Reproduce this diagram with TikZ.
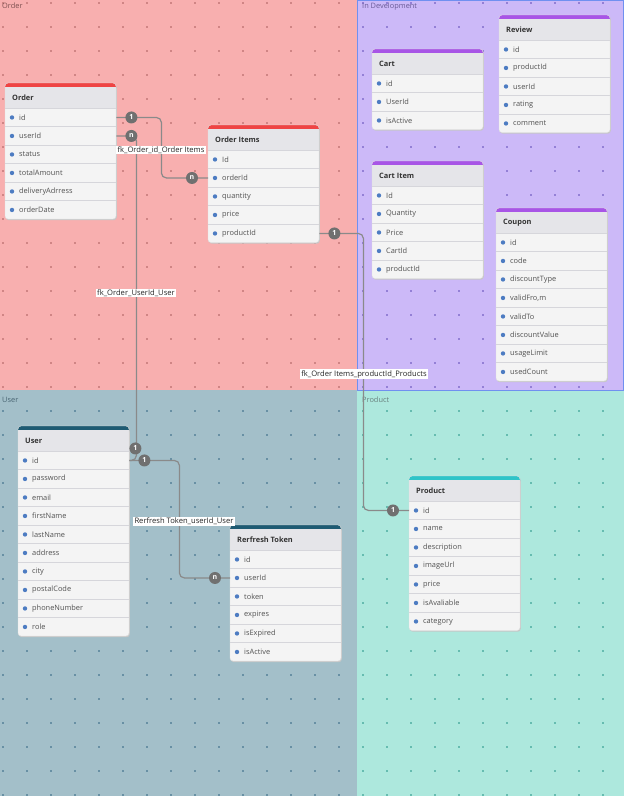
\documentclass[tikz,border=0pt]{standalone}
\usepackage{fontspec}
\setsansfont{Open Sans}
\usetikzlibrary{calc}

\definecolor{orderbg}{HTML}{F8AFAF}
\definecolor{devbg}{HTML}{CCB9F8}
\definecolor{userbg}{HTML}{A3BFC9}
\definecolor{productbg}{HTML}{ADE8DD}
\definecolor{orderdot}{HTML}{D08585}
\definecolor{devdot}{HTML}{9480D6}
\definecolor{userdot}{HTML}{6890A4}
\definecolor{productdot}{HTML}{66BCB0}
\definecolor{orderred}{HTML}{EF4444}
\definecolor{devpurple}{HTML}{A855E6}
\definecolor{userteal}{HTML}{1E5B73}
\definecolor{productcyan}{HTML}{2EC4C8}
\definecolor{rowfill}{HTML}{F4F4F4}
\definecolor{headfill}{HTML}{E5E5E9}
\definecolor{sepgray}{HTML}{D6D6DB}
\definecolor{keyblue}{HTML}{4D7CC2}
\definecolor{linegray}{HTML}{8A8A8A}
\definecolor{cardgray}{HTML}{707070}
\definecolor{devborder}{HTML}{7090F0}

\tikzset{
  tabrow/.style={anchor=north west, minimum height=18.5pt, text width=83pt,
    inner xsep=14pt, inner ysep=0pt, align=left, text=black!68,
    font=\sffamily\fontsize{7.4}{9}\selectfont},
  tabtitle/.style={anchor=west, inner sep=0pt, text=black!80,
    font=\sffamily\bfseries\fontsize{7.4}{9}\selectfont},
  rowsep/.style={draw=sepgray, line width=1pt},
  keydot/.style={fill=keyblue},
  relline/.style={draw=linegray, line width=1.2pt, rounded corners=5pt},
  card/.style={circle, fill=cardgray, text=white, inner sep=0pt, minimum size=12pt,
    font=\sffamily\bfseries\fontsize{7}{7}\selectfont},
  rellabel/.style={fill=white, inner xsep=1.5pt, inner ysep=1pt, text=black!85,
    font=\sffamily\fontsize{7.6}{9}\selectfont},
  grouplabel/.style={anchor=north west, inner sep=0pt,
    font=\sffamily\fontsize{7.4}{9}\selectfont},
}

% #1 name, #2 left, #3 top, #4 bar colour, #5 title, #6 rows, #7 fields
\newcommand{\erdtable}[7]{%
  \fill[black!22, rounded corners=3pt] ({#2+0.8},{#3+1.2}) rectangle ({#2+111.8},{#3+26.2+18.5*#6});
  \fill[rowfill, rounded corners=3pt] (#2,#3) rectangle ({#2+111},{#3+25+18.5*#6});
  \fill[#4, rounded corners=3pt] (#2,#3) rectangle ({#2+111},{#3+8});
  \fill[headfill] (#2,{#3+4}) rectangle ({#2+111},{#3+25});
  \node[tabtitle] (#1-title) at ({#2+7},{#3+15}) {#5};
  \foreach \f [count=\i] in {#7} {
    \node[tabrow] (#1-\i) at (#2,{#3+25+18.5*(\i-1)}) {\f};
    \draw[rowsep] (#1-\i.north west) -- (#1-\i.north east);
    \fill[keydot] ($(#1-\i.west)+(7,0)$) circle (2.2pt);
  }
  \draw[black!12, rounded corners=3pt] (#2,#3) rectangle ({#2+111},{#3+25+18.5*#6});
}

% #1 colour, #2 left, #3 top, #4 right, #5 bottom
\newcommand{\dotgrid}[5]{%
  \begin{scope}
    \clip (#2,#3) rectangle (#4,#5);
    \foreach \gx in {3,27,...,627}
      \foreach \gy in {3,27,...,795}
        \fill[#1] ({\gx-0.9},{\gy-0.9}) rectangle ++(1.8,1.8);
  \end{scope}
}

\begin{document}
\begin{tikzpicture}[x=1pt, y=-1pt]
    \useasboundingbox (0,0) rectangle (624,796);

    % Groups
    \fill[orderbg] (0,0) rectangle (357,390);
    \fill[devbg] (357,0) rectangle (624,390);
    \fill[userbg] (0,390) rectangle (357,796);
    \fill[productbg] (357,390) rectangle (624,796);
    \dotgrid{orderdot}{0}{0}{357}{390}
    \dotgrid{devdot}{357}{0}{624}{390}
    \dotgrid{userdot}{0}{390}{357}{796}
    \dotgrid{productdot}{357}{390}{624}{796}
    \draw[devborder, line width=1pt] (357,0.5) rectangle (623.5,390);

    \node[grouplabel, text=orderdot!60!black] (g-order) at (2,3) {Order};
    \node[grouplabel, text=devdot!70!black] (g-dev) at (362,3) {In Development};
    \node[grouplabel, text=userdot!70!black] (g-user) at (2,397) {User};
    \node[grouplabel, text=productdot!40!black!70] (g-product) at (362,397) {Product};

    % Tables
    \erdtable{order}{5}{83}{orderred}{Order}{6}{id,userId,status,totalAmount,deliveryAdrress,orderDate}
    \erdtable{oitems}{208}{125}{orderred}{Order Items}{5}{Id,orderId,quantity,price,productId}
    \erdtable{cart}{372}{49}{devpurple}{Cart}{3}{id,UserId,isActive}
    \erdtable{review}{499}{15}{devpurple}{Review}{5}{id,productId,userId,rating,comment}
    \erdtable{cartitem}{372}{161}{devpurple}{Cart Item}{5}{Id,Quantity,Price,CartId,productId}
    \erdtable{coupon}{496}{208}{devpurple}{Coupon}{8}{id,code,discountType,{validFro,m},validTo,discountValue,usageLimit,usedCount}
    \erdtable{user}{18}{426}{userteal}{User}{10}{id,password,email,firstName,lastName,address,city,postalCode,phoneNumber,role}
    \erdtable{rtoken}{230}{525}{userteal}{Rerfresh Token}{6}{id,userId,token,expires,isExpired,isActive}
    \erdtable{product}{409}{476}{productcyan}{Product}{7}{id,name,description,imageUrl,price,isAvaliable,category}

    % Relations
    \draw[relline] (order-1.east) -- ++(45,0) |- (oitems-2.west);
    \draw[relline] (order-2.east) -- ++(20,0) |- (user-1.east);
    \draw[relline] (user-1.east) -- ++(50,0) |- (rtoken-2.west);
    \draw[relline] (oitems-5.east) -- ++(44,0) |- (product-1.west);

    \node[rellabel] (l-orderitems) at (161,150) {fk\_Order\_id\_Order Items};
    \node[rellabel] (l-orderuser) at (136,293) {fk\_Order\_UserId\_User};
    \node[rellabel] (l-tokenuser) at (184,521) {Rerfresh Token\_userId\_User};
    \node[rellabel] (l-itemproduct) at (364,374) {fk\_Order Items\_productId\_Products};

    \node[card] (c1) at ($(order-1.east)+(15,0)$) {1};
    \node[card] (c2) at ($(oitems-2.west)+(-16,0)$) {n};
    \node[card] (c3) at ($(order-2.east)+(15,0)$) {n};
    \node[card] (c4) at ($(user-1.east)+(6,-12)$) {1};
    \node[card] (c5) at ($(user-1.east)+(15,0)$) {1};
    \node[card] (c6) at ($(rtoken-2.west)+(-15,0)$) {n};
    \node[card] (c7) at ($(oitems-5.east)+(15,0)$) {1};
    \node[card] (c8) at ($(product-1.west)+(-16,0)$) {1};
\end{tikzpicture}
\end{document}
